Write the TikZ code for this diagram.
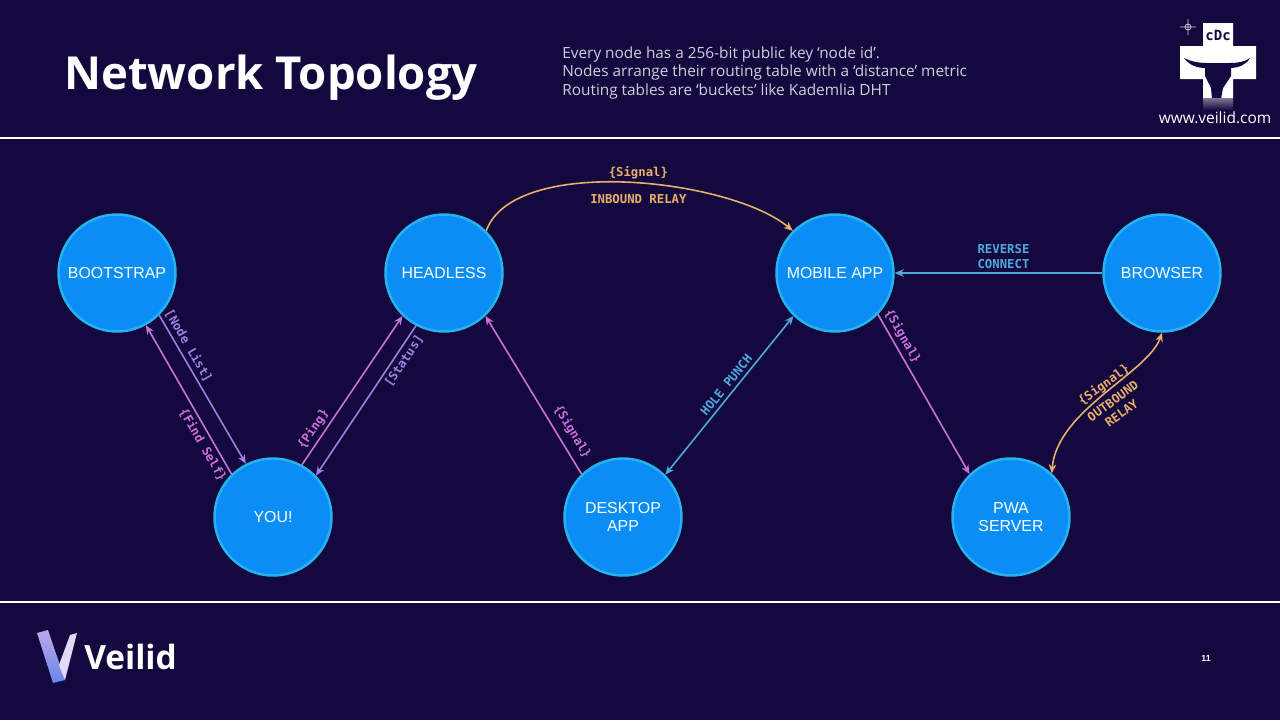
\documentclass[tikz,border=0pt]{standalone}
\usepackage{fontspec}
\setmainfont{Liberation Sans}
\newfontfamily\headfont{Open Sans}
\newfontfamily\edgefont{DejaVu Sans Mono}
\usetikzlibrary{arrows.meta}
\definecolor{bgdark}{HTML}{14093E}
\definecolor{nodefill}{HTML}{0A8DF4}
\definecolor{nodeline}{HTML}{27B4EE}
\definecolor{relayorange}{HTML}{E9AE6C}
\definecolor{signalpink}{HTML}{CF6FDC}
\definecolor{listpurple}{HTML}{9C82E2}
\definecolor{punchblue}{HTML}{4FA9DE}
\definecolor{subgrey}{HTML}{CFCFDC}
\begin{document}
\begin{tikzpicture}[
    x=0.02cm, y=-0.02cm,
    >={Stealth[length=1.8mm,width=1.5mm]},
    peer/.style={circle, draw=nodeline, fill=nodefill, line width=1.4pt, minimum size=2.34cm, inner sep=0pt, align=center, text=white, font=\fontsize{9.05}{10.4}\selectfont},
    link/.style={line width=0.9pt},
    tag/.style={font=\edgefont\bfseries\fontsize{7}{8.5}\selectfont, align=center, inner sep=2pt},
    rule/.style={draw=white, line width=1pt},
]

% Фон и границы
\fill[bgdark] (0,0) rectangle (1280,720);
\useasboundingbox (0,0) rectangle (1280,720);
\draw[rule] (0,138) -- (1280,138);
\draw[rule] (0,602) -- (1280,602);

% Заголовок
\node[anchor=base west, inner sep=0pt, text=white, font=\headfont\bfseries\fontsize{25.9}{30}\selectfont] (title) at (64,89) {Network Topology};
\node[anchor=west, inner sep=0pt, text=subgrey, align=left, font=\headfont\fontsize{8.75}{10.8}\selectfont] (about) at (562,73) {Every node has a 256-bit public key ‘node id’.\\Nodes arrange their routing table with a ‘distance’ metric\\Routing tables are ‘buckets’ like Kademlia DHT};

% Узлы
\node[peer] (bootstrap) at (117,273) {BOOTSTRAP};
\node[peer] (you) at (273,517) {YOU!};
\node[peer] (headless) at (444,273) {HEADLESS};
\node[peer] (desktop) at (623,517) {DESKTOP\\APP};
\node[peer] (mobile) at (835,273) {MOBILE APP};
\node[peer] (pwa) at (1011,517) {PWA\\SERVER};
\node[peer] (browser) at (1162,273) {BROWSER};

% Рёбра вокруг YOU!
\draw[->, link, signalpink] (you.134) -- node[tag, sloped, below, pos=0.23] {\{Find Self\}} (bootstrap.-61);
\draw[->, link, listpurple] (bootstrap.-45) -- node[tag, sloped, above, pos=0.24] {[Node List]} (you.117);
\draw[->, link, signalpink] (you.61) -- node[tag, sloped, above, pos=0.2] {\{Ping\}} (headless.-134);
\draw[->, link, listpurple] (headless.-118) -- node[tag, sloped, below, pos=0.2] {[Status]} (you.44);

% Рёбра вокруг DESKTOP APP
\draw[->, link, signalpink] (desktop.134) -- node[tag, sloped, above=2pt, pos=0.22] {\{Signal\}} (headless.-46);
\draw[<->, link, punchblue] (desktop.45) -- node[tag, sloped, above, pos=0.53] {HOLE PUNCH} (mobile.-134);

% Рёбра вокруг MOBILE APP
\draw[->, link, relayorange] (headless.45) to[out=70, in=140, looseness=0.68]
    node[tag, above, pos=0.53] {\{Signal\}} node[tag, below, yshift=-4pt, pos=0.53] {INBOUND RELAY} (mobile.135);
\draw[->, link, signalpink] (mobile.-44) -- node[tag, sloped, above, pos=0.17] {\{Signal\}} (pwa.134);
\draw[->, link, punchblue] (browser) -- node[tag, above, pos=0.476] {REVERSE\\CONNECT} (mobile);
\draw[<->, link, relayorange] (pwa.47) .. controls (1057,410) and (1148,373) .. (browser.-90);
\node[tag, rotate=36, text=relayorange] (outsignal) at (1104,385) {\{Signal\}};
\node[tag, rotate=36, text=relayorange] (outrelay) at (1117,407) {OUTBOUND\\RELAY};

% Крест
\fill[white] (1203,23) -- (1233,23) -- (1233,46) -- (1256,46) -- (1256,79) -- (1233,79) -- (1233,98) -- (1203,98) -- (1203,79) -- (1180,79) -- (1180,46) -- (1203,46) -- cycle;
\fill[bgdark] (1184,58) .. controls (1192,62) and (1200,63) .. (1207,63) -- (1229,63) .. controls (1237,63) and (1245,62) .. (1250,58) .. controls (1246,65) and (1238,68) .. (1231,68) -- (1231,76) -- (1223,88) -- (1221,99) -- (1212,99) -- (1211,88) -- (1205,76) -- (1205,68) .. controls (1197,68) and (1189,65) .. cycle;
\shade[top color=white!45!bgdark, bottom color=bgdark] (1203,98) rectangle (1233,110);
\node[inner sep=0pt, font=\edgefont\bfseries\fontsize{8}{9}\selectfont, text=bgdark] (cdc) at (1218,35) {cDc};
\node[inner sep=0pt, text=white, font=\headfont\fontsize{8.8}{10}\selectfont] (site) at (1215,118) {www.veilid.com};
\draw[subgrey, line width=0.4pt] (1180,27) -- (1196,27) (1188,19) -- (1188,35) (1188,27) circle (3);

% Нижний колонтитул
\shade[top color=white!30!listpurple, bottom color=nodefill!35!listpurple] (37,633) -- (48,630) -- (65,680) -- (53,683) -- cycle;
\fill[white!70!listpurple] (59,665) -- (70,635) -- (77,633) -- (65,680) -- cycle;
\node[anchor=west, inner sep=0pt, text=white, font=\headfont\bfseries\fontsize{19}{24}\selectfont] (brand) at (84,657) {Veilid};
\node[inner sep=0pt, text=white, font=\bfseries\fontsize{5}{6}\selectfont] (pageno) at (1206,658) {11};

\end{tikzpicture}
\end{document}
